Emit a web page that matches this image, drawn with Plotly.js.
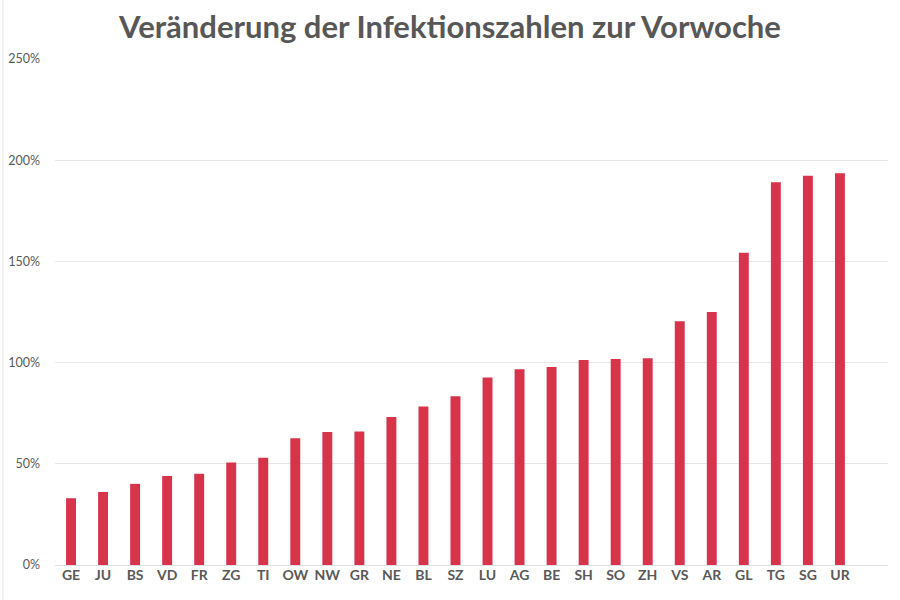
<!DOCTYPE html>
<html>
<head>
<meta charset="utf-8">
<script src="https://cdn.plot.ly/plotly-3.0.1.min.js"></script>
<style>
html,body{margin:0;padding:0;background:#fff;}
#chart{width:900px;height:600px;}
</style>
</head>
<body>
<div id="chart"></div>
<script>
const cantons = ["GE","JU","BS","VD","FR","ZG","TI","OW","NW","GR","NE","BL","SZ","LU","AG","BE","SH","SO","ZH","VS","AR","GL","TG","SG","UR"];
const changePct = [33.0,36.1,40.1,44.0,45.1,50.7,53.0,62.6,65.7,66.0,73.1,78.3,83.4,92.7,96.7,97.8,101.3,101.8,102.1,120.4,125.0,154.3,189.1,192.3,193.5];
const yTickVals = [0,50,100,150,200,250];
const yTickText = ["0%","50%","100%","150%","200%","250%"];

const trace = {
  type: "bar",
  x: cantons.map((c, i) => i),
  y: changePct,
  width: 0.31,
  marker: {color: "#d7344b"},
  hoverinfo: "y"
};

const layout = {
  width: 900,
  height: 600,
  margin: {l: 55, r: 12, t: 59, b: 35},
  paper_bgcolor: "#ffffff",
  plot_bgcolor: "#ffffff",
  showlegend: false,
  title: {
    text: "<b>Veränderung der Infektionszahlen zur Vorwoche</b>",
    font: {family: "Lato, sans-serif", size: 31, color: "#575757"},
    x: 0.5, xanchor: "center",
    y: 0.955, yanchor: "middle"
  },
  xaxis: {
    range: [-0.5, 25.5],
    tickmode: "array",
    tickvals: cantons.map((c, i) => i),
    ticktext: cantons,
    tickfont: {family: "Lato, sans-serif", size: 14, color: "#595959", weight: "bold"},
    showgrid: false,
    zeroline: false,
    showline: false,
    ticks: "",
    ticklen: 0
  },
  yaxis: {
    range: [0, 250],
    tickmode: "array",
    tickvals: yTickVals,
    ticktext: yTickText,
    tickfont: {family: "Lato, sans-serif", size: 12.5, color: "#595959"},
    showgrid: true,
    gridcolor: "#e6e6e6",
    gridwidth: 1,
    zeroline: true,
    zerolinecolor: "#e0e0e0",
    zerolinewidth: 1,
    showline: false,
    ticks: "",
    ticklabelstandoff: 14
  },
  shapes: [{
    type: "line", xref: "paper", yref: "paper",
    x0: -0.0625, x1: -0.0625, y0: -0.07, y1: 1.12,
    line: {color: "#e6e6e6", width: 1}
  }]
};

Plotly.newPlot("chart", [trace], layout, {displayModeBar: false, staticPlot: true});
</script>
</body>
</html>
